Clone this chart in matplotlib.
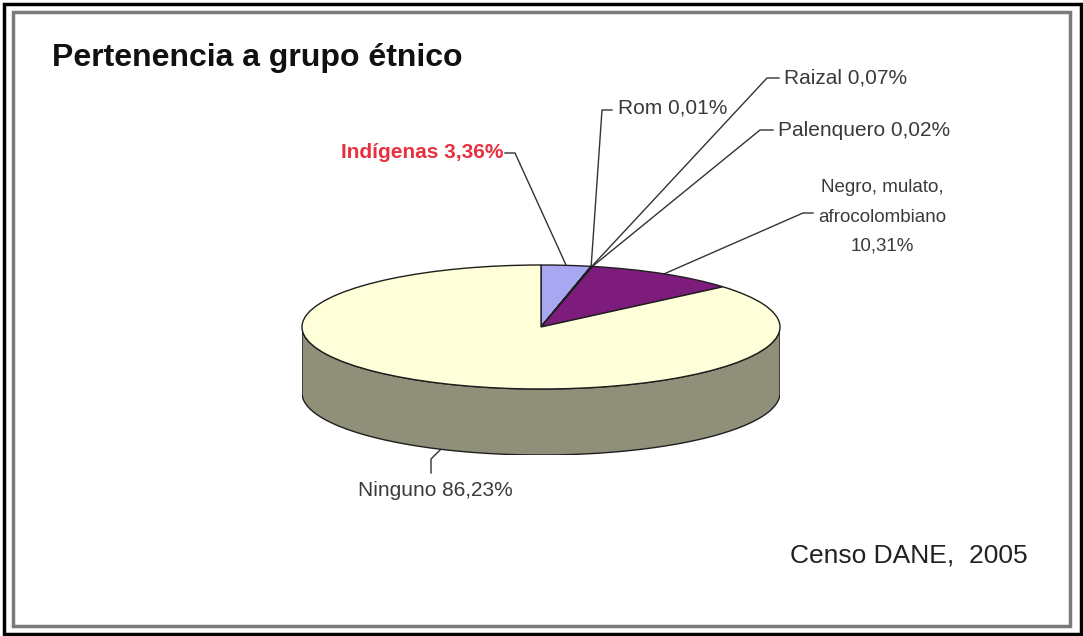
import numpy as np
import matplotlib
matplotlib.use("Agg")
import matplotlib.pyplot as plt
from matplotlib.patches import Polygon, Rectangle
from matplotlib.colors import to_rgb

plt.rcParams['font.family'] = ['Liberation Sans', 'DejaVu Sans']

# data (percent of population, clockwise from 12 o'clock)
groups = ['Indígenas', 'Rom', 'Raizal', 'Palenquero',
          'Negro, mulato,\nafrocolombiano', 'Ninguno']
shares = [3.36, 0.01, 0.07, 0.02, 10.31, 86.23]
share_text = ['3,36%', '0,01%', '0,07%', '0,02%', '10,31%', '86,23%']
colors = ['#a8a8f2', '#a8a8f2', '#a8a8f2', '#a8a8f2', '#7d1c7d', '#ffffd9']

W, H = 1083, 636
fig = plt.figure(figsize=(W / 100, H / 100), dpi=100)
fig.patch.set_facecolor('white')

# background axes in pixel coordinates
ax = fig.add_axes([0, 0, 1, 1])
ax.set_xlim(0, W)
ax.set_ylim(H, 0)
ax.axis('off')

# frames
ax.add_patch(Rectangle((3.5, 3.5), W - 6, H - 6, fill=False, ec='black', lw=2.5))
ax.add_patch(Rectangle((12.5, 11.5), 1057, 614, fill=False, ec='#7a7a7a', lw=2.5))

# pie geometry (pixels)
cx, cy, a, b, depth = 541, 327, 239, 62, 66
d = depth / b
pax = fig.add_axes([(cx - a) / W, 1 - (cy + b + depth) / H,
                    2 * a / W, (2 * b + depth) / H])
wedges, _ = pax.pie(shares, colors=colors, startangle=90, counterclock=False,
                    radius=1, wedgeprops=dict(edgecolor='#1e1e1e', linewidth=1.0))
pax.set_aspect('auto')
pax.set_xlim(-1, 1)
pax.set_ylim(-1 - d, 1)
pax.axis('off')

# side walls for the front half (clockwise angle 90..270 deg from top)
bounds = np.concatenate([[0], np.cumsum(shares)]) / sum(shares) * 360
for i in range(len(shares)):
    lo = max(bounds[i], 90)
    hi = min(bounds[i + 1], 270)
    if hi <= lo:
        continue
    t = np.radians(np.linspace(lo, hi, 120))
    xs, ys = np.sin(t), np.cos(t)
    pts = np.column_stack([np.r_[xs, xs[::-1]], np.r_[ys, ys[::-1] - d]])
    side = tuple(c * 0.56 for c in to_rgb(colors[i]))
    pax.add_patch(Polygon(pts, closed=True, fc=side, ec='#1e1e1e', lw=1.0, zorder=0.5))


def anchor(i, bottom=False):
    m = np.radians((bounds[i] + bounds[i + 1]) / 2)
    x, y = np.sin(m), np.cos(m)
    if bottom:
        y -= d
    disp = pax.transData.transform((x, y))
    return ax.transData.inverted().transform(disp)


# label layout: (text position, elbow, end, alignment, size)
layout = {
    0: ((503, 153), (515, 153), (505, 153), 'right', 15),
    1: ((618, 108), (602, 110), (612, 110), 'left', 15),
    2: ((784, 78), (767, 78), (779, 78), 'left', 15),
    3: ((778, 130), (760, 130), (773, 130), 'left', 15),
    4: ((882, 217), (803, 213), (813, 213), 'center', 13.5),
    5: ((435, 491), (431, 459), (431, 473), 'center', 15),
}
for i, (txt, elbow, end, ha, fs) in layout.items():
    p = anchor(i, bottom=(i == 5))
    ax.plot([p[0], elbow[0], end[0]], [p[1], elbow[1], end[1]],
            color='#333333', lw=1.0)
    label = f'{groups[i]} {share_text[i]}' if i != 4 else f'{groups[i]}\n{share_text[i]}'
    if i == 0:
        ax.text(*txt, label, ha=ha, va='center', fontsize=fs,
                fontweight='bold', color='#e8303f')
    else:
        ax.text(*txt, label, ha=ha, va='center', fontsize=fs,
                color='#3a3a3a', linespacing=1.95, multialignment='center')

ax.text(52, 58, 'Pertenencia a grupo étnico', ha='left', va='center',
        fontsize=23, fontweight='bold', color='#111111')
ax.text(790, 556, 'Censo DANE,  2005', ha='left', va='center',
        fontsize=19, color='#222222')

fig.savefig('out.png', dpi=100, facecolor='white')
